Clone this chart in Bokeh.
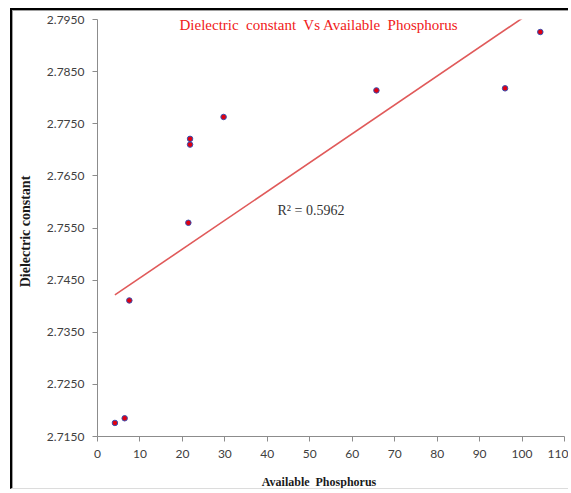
from bokeh.plotting import figure
from bokeh.models import Range1d, FixedTicker, PrintfTickFormatter, Label
from bokeh.embed import file_html
from bokeh.resources import INLINE
import numpy as np

# Available phosphorus vs dielectric constant
phosphorus = [4.1, 6.4, 7.5, 21.4, 21.8, 21.8, 29.7, 65.7, 96.0, 104.3]
dielectric = [2.7176, 2.7185, 2.7411, 2.7560, 2.7721, 2.7710, 2.7763, 2.7814, 2.7818, 2.7926]

x_ticks = [0, 10, 20, 30, 40, 50, 60, 70, 80, 90, 100, 110]
y_ticks = [2.7150, 2.7250, 2.7350, 2.7450, 2.7550, 2.7650, 2.7750, 2.7850, 2.7950]

NB = "\u00a0"
title_text = f"Dielectric{NB} constant{NB} Vs Available{NB} Phosphorus"
# trailing no-break spaces nudge the axis titles off the frame centre
x_label = f"Available{NB} Phosphorus" + NB * 8
y_label = "Dielectric constant" + NB * 2
r2_text = "R\u00b2 = 0.5962"

p = figure(width=558, height=481, output_backend="svg", toolbar_location=None,
           x_range=Range1d(0, 110), y_range=Range1d(2.7150, 2.7950),
           min_border_left=84, min_border_right=7, min_border_top=8,
           min_border_bottom=56)
# chart border: heavy black rule on top/left, thin gray inner rule
p.styles = {
    "margin-left": "10px", "margin-top": "8px",
    "border-left": "2px solid black", "border-top": "2px solid black",
    "border-bottom": "1px solid #dcdcdc",
    "padding-left": "1px", "padding-top": "1px",
    "box-shadow": "inset 1px 1px 0 #a0a0a0",
}
p.outline_line_color = None
p.grid.visible = False
p.background_fill_color = "white"
p.border_fill_color = "white"

for ax in (p.xaxis[0], p.yaxis[0]):
    ax.axis_line_color = "#8c8c8c"
    ax.major_tick_line_color = "#8c8c8c"
    ax.minor_tick_line_color = None
    ax.major_tick_in = 0
    ax.major_tick_out = 5
    ax.major_label_text_font = "Lato"
    ax.major_label_text_font_size = "12px"
    ax.major_label_text_color = "#404040"
    ax.axis_label_text_font = "Liberation Serif"
    ax.axis_label_text_font_style = "bold"
    ax.axis_label_text_color = "#1a1a1a"

p.xaxis.ticker = FixedTicker(ticks=x_ticks)
p.yaxis.ticker = FixedTicker(ticks=y_ticks)
p.yaxis.formatter = PrintfTickFormatter(format="%.4f")
p.xaxis.major_label_standoff = 8
p.yaxis.major_label_standoff = 8

p.xaxis.axis_label = x_label
p.xaxis.axis_label_text_font_size = "12px"
p.xaxis.axis_label_standoff = 14
p.yaxis.axis_label = y_label
p.yaxis.axis_label_text_font_size = "14px"
p.yaxis.axis_label_standoff = 11

# least-squares trend line over the data span
coef = np.polyfit(phosphorus, dielectric, 1)
xs = np.array([min(phosphorus), max(phosphorus)])
p.line(xs, np.polyval(coef, xs), line_color="#e05a5a", line_width=1.6)

p.scatter(phosphorus, dielectric, size=5.5, fill_color="#e00010",
          line_color="#3a4fb0", line_width=1)

p.add_layout(Label(x=42.4, y=2.7583, text=r2_text,
                   text_font="Liberation Serif", text_font_size="14px",
                   text_color="#333333", text_baseline="middle"))

p.add_layout(Label(x=52.2, y=2.79385, text=title_text, text_align="center",
                   text_baseline="middle", text_font="Liberation Serif",
                   text_font_size="15px", text_color="#f02020"))

open("out.html", "w").write(file_html(p, INLINE))
